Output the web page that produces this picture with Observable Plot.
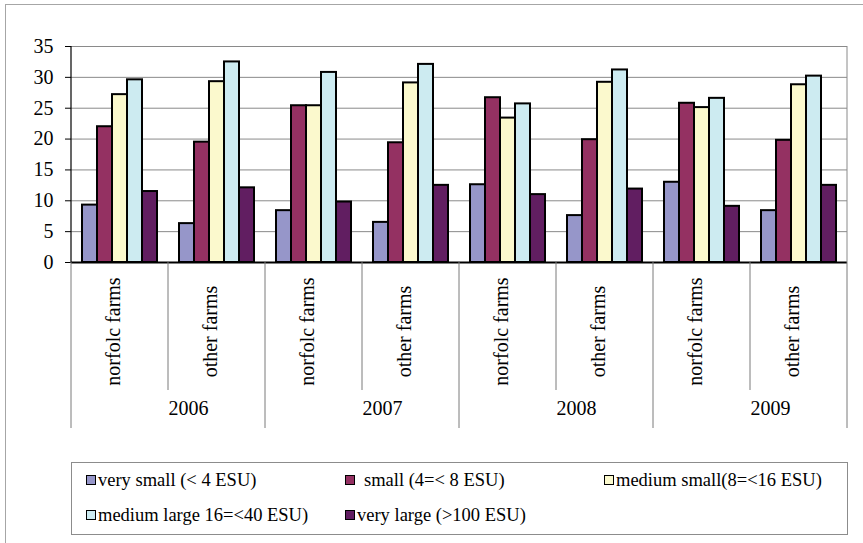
<!DOCTYPE html>
<html>
<head>
<meta charset="utf-8">
<script src="https://cdn.jsdelivr.net/npm/d3@7"></script>
<script src="https://cdn.jsdelivr.net/npm/@observablehq/plot@0.6"></script>
</head>
<body style="margin:0;padding:0;background:white;">
<div id="box" style="position:absolute;left:5px;top:4px;width:858px;height:539px;box-sizing:border-box;border-top:1px solid #a6a6a6;border-left:1px solid #a6a6a6;"></div>
<div id="chart" style="position:absolute;left:0;top:0;"></div>
<div id="key" style="position:absolute;left:71px;top:462px;width:777px;height:73px;box-sizing:border-box;border:1px solid #8c8c8c;"></div>
<script>
// ---- data ----
const years = ["2006", "2007", "2008", "2009"];
const farms = ["norfolc farms", "other farms"];
const sizes = ["very small (< 4 ESU)", "small (4=< 8 ESU)", "medium small(8=<16 ESU)", "medium large 16=<40 ESU)", "very large (>100 ESU)"];
const sizeColors = ["#9696c9", "#943162", "#fbf9cd", "#cdebf1", "#611e61"];
// values per group: 2006 norfolc, 2006 other, 2007 norfolc, 2007 other, ...
const verySmall   = [9.3, 6.3, 8.4, 6.5, 12.6, 7.6, 13.0, 8.4];
const small       = [22.0, 19.5, 25.4, 19.4, 26.7, 19.9, 25.8, 19.8];
const mediumSmall = [27.2, 29.3, 25.4, 29.1, 23.4, 29.2, 25.1, 28.8];
const mediumLarge = [29.6, 32.5, 30.8, 32.1, 25.7, 31.2, 26.6, 30.2];
const veryLarge   = [11.5, 12.1, 9.8, 12.5, 11.0, 11.9, 9.1, 12.5];
const yTicks = [0, 5, 10, 15, 20, 25, 30, 35];

// ---- table ----
const series = [verySmall, small, mediumSmall, mediumLarge, veryLarge];
const groups = [];
years.forEach(y => farms.forEach(f => groups.push({year: y, farm: f, key: y + " | " + f})));
const table = [];
groups.forEach((g, gi) => sizes.forEach((s, si) => table.push({
  group: g.key, year: g.year, farm: g.farm, size: s, value: series[si][gi], first: si === 0
})));

const plot = Plot.plot({
  width: 863, height: 440, marginLeft: 68, marginRight: 14, marginTop: 46, marginBottom: 178,
  style: {fontFamily: "'Liberation Serif'", fontSize: "20px"},
  facet: {data: table, x: "group"},
  fx: {domain: groups.map(g => g.key), padding: 0, axis: null},
  x: {domain: sizes, paddingInner: 0, paddingOuter: 0.73, axis: null},
  y: {domain: [0, 35], ticks: yTicks, tickSize: 6, tickPadding: 12, label: null},
  color: {domain: sizes, range: sizeColors},
  marks: [
    Plot.ruleY(yTicks.filter(d => d > 0), {stroke: "#8a8a8a", strokeWidth: 1}),
    Plot.barY(table, {x: "size", y: "value", fill: "size", stroke: "black", strokeWidth: 2}),
    Plot.ruleY([0], {stroke: "black", strokeWidth: 1.8}),
    Plot.text(table, {filter: d => d.first, text: "farm", frameAnchor: "bottom", rotate: -90, dy: 69, fill: "black"}),
    Plot.text(table, {filter: d => d.first && d.farm === farms[1], text: "year", frameAnchor: "bottom-left", dy: 152, fill: "black"})
  ]
});
document.getElementById("chart").appendChild(plot);

// make sure every text uses the serif face
d3.select(plot).selectAll("text").attr("font-family", "Liberation Serif").style("font-family", "'Liberation Serif'");

// ---- axis line and category separators, placed with Plot's own scales ----
const fxScale = plot.scale("fx");
const yScale = plot.scale("y");
const yTop = yScale.apply(35), yZero = yScale.apply(0);
const band = fxScale.bandwidth !== undefined ? fxScale.bandwidth : fxScale.step;
const xLeft = fxScale.apply(groups[0].key);
const xRight = fxScale.apply(groups[groups.length - 1].key) + band;
const sepG = d3.select(plot).append("g").attr("fill", "none");
sepG.append("line").attr("x1", xRight).attr("x2", xRight).attr("y1", yTop).attr("y2", yZero).attr("stroke", "#8a8a8a");
sepG.append("line").attr("x1", xLeft).attr("x2", xLeft).attr("y1", yTop).attr("y2", yZero).attr("stroke", "black").attr("stroke-width", 1.2);
groups.forEach(g => {
  const x = fxScale.apply(g.key);
  const isYearEdge = g.farm === farms[0];
  sepG.append("line").attr("x1", x).attr("x2", x).attr("y1", yZero).attr("y2", yZero + (isYearEdge ? 166 : 128))
    .attr("stroke", "#7a7a7a");
});
sepG.append("line").attr("x1", xRight).attr("x2", xRight).attr("y1", yZero).attr("y2", yZero + 166).attr("stroke", "#7a7a7a");

// ---- legend ----
const keyBox = document.getElementById("key");
sizes.forEach((s, i) => {
  const row = Math.floor(i / 3), col = i % 3;
  const it = document.createElement("div");
  it.setAttribute("style", "position:absolute;display:flex;align-items:center;font-family:'Liberation Serif';font-size:18.5px;color:black;white-space:pre;line-height:1;");
  it.style.left = (14 + col * 259) + "px";
  it.style.top = (row === 0 ? 8 : 43) + "px";
  const sw = document.createElement("span");
  sw.setAttribute("style", "display:block;width:8px;height:8px;border:1.5px solid black;margin-right:2px;flex:none;");
  sw.style.background = sizeColors[i];
  const tx = document.createElement("span");
  tx.textContent = s;
  if (i === 1) tx.style.marginLeft = "7px";
  it.appendChild(sw);
  it.appendChild(tx);
  keyBox.appendChild(it);
});
</script>
</body>
</html>
